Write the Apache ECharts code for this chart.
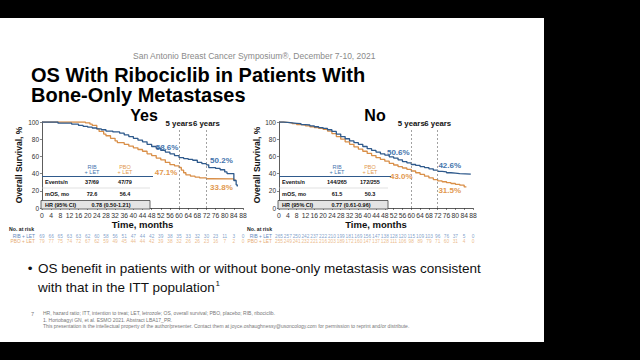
<!DOCTYPE html>
<html>
<head>
<meta charset="utf-8">
<script src="https://cdn.jsdelivr.net/npm/echarts@6/dist/echarts.min.js"></script>
<style>
html,body{margin:0;padding:0;background:#000;}
#wrap{position:relative;width:640px;height:360px;background:#000;overflow:hidden;}
#slide{position:absolute;left:0;top:18px;width:544px;height:324px;background:#fff;}
#chart{position:absolute;left:0;top:0;width:640px;height:360px;}
</style>
</head>
<body>
<div id="wrap"><div id="slide"></div><div id="chart"></div></div>
<script>
// ---------- data ----------
const months = [0,4,8,12,16,20,24,28,32,36,40,44,48,52,56,60,64,68,72,76,80,84,88];

// Kaplan-Meier curves: [month, % surviving]
const yesRib = [[0,100],[6,100],[7,98.6],[11,98.6],[13,97.5],[16,96],[18,95],[20,94],[22,93],[24,92],[26,91],[28,89.5],[31,88.5],[34,87],[36,85],[38,83],[40,81],[42,79],[44,77],[46,74],[48,71.5],[50,69.5],[52,67],[54,65],[56,63],[58,61],[60,58.6],[62,57.5],[64,56.5],[66,55.5],[68,53],[70,51.5],[72,50.2],[73,47],[76,46],[78,44.5],[80,42],[81,40],[83,40],[84,32],[85,27],[85.5,25]];
const yesPbo = [[0,100],[18,100],[19,99],[21,97.5],[22,96],[24,92],[25,89],[27,86],[28,84],[30,81],[32,78],[33,76],[36,74],[38,72],[40,70],[42,68],[44,66],[46,63],[48,61],[50,58],[52,56],[54,53],[56,50.5],[58,49],[60,47.1],[61,44],[62,41],[63,38.5],[65,37],[67,36],[69,35],[72,34],[74,33.8],[84,32.5],[85,32.5]];
const noRib = [[0,100],[2,99.5],[4,99],[6,98.5],[8,98],[10,97],[12,96.5],[14,95.5],[16,94.5],[18,93.5],[20,92.5],[22,91],[24,89],[26,86],[28,83],[30,80.5],[32,78],[34,76],[36,74],[38,71.5],[40,69],[42,67],[44,65],[46,63],[48,61.5],[50,59.5],[52,58],[54,56],[56,54],[58,52.5],[60,50.6],[62,49.5],[64,48],[66,47],[68,45.5],[70,44],[72,42.6],[74,42],[76,41],[78,40.5],[80,40],[82,39.5],[87,39.5]];
const noPbo = [[0,100],[2,99.5],[4,99],[6,98],[8,97],[10,96.5],[12,95.5],[14,94.5],[16,93.5],[18,92.5],[20,91.5],[22,89.5],[24,86.5],[26,83],[28,80],[30,77],[32,74],[34,71],[36,68.5],[38,66],[40,63.5],[42,61],[44,58.5],[46,56.5],[48,54.5],[50,52],[52,50],[54,48],[56,46.5],[58,45],[60,43],[62,41],[64,39],[66,37],[68,35],[70,33],[72,31.5],[74,30.5],[76,29.5],[78,28.5],[80,27.5],[82,26.5],[84,24.5],[85,24]];

// Landmark survival labels
const yesRibLandmarks = [[60,58.6],[72,50.2]];
const yesPboLandmarks = [[60,47.1],[72,33.8]];
const noRibLandmarks = [[60,50.6],[72,42.6]];
const noPboLandmarks = [[60,43.0],[72,31.5]];

// Number at risk
const riskYesRib = [69,66,65,63,63,62,60,58,56,51,47,44,42,39,38,35,33,32,30,23,11,3,0];
const riskYesPbo = [79,77,75,74,72,67,62,59,49,45,44,44,42,39,38,32,26,26,23,16,7,2,0];
const riskNoRib = [265,257,250,242,237,222,210,199,181,169,156,147,138,128,120,115,109,103,96,76,37,5,0];
const riskNoPbo = [255,249,241,232,221,216,203,189,172,160,147,137,128,111,106,98,89,79,71,60,31,4,0];

// Tables
const tableYes = {events:['37/69','47/79'], mos:['72.6','56.4'], hr:'0.78 (0.50-1.21)'};
const tableNo  = {events:['144/265','172/255'], mos:['61.5','50.3'], hr:'0.77 (0.61-0.96)'};

// ---------- styles ----------
const BLUE = '#2f5a8c', ORANGE = '#d98f48';
const BLUE_T = '#4575ad', ORANGE_T = '#e2994f';
const BLUE_R = '#6288bb', ORANGE_R = '#e6aa70';
const FONT = 'Liberation Sans, Arial, Helvetica, sans-serif';

const chart = echarts.init(document.getElementById('chart'), null, {renderer:'svg', width:640, height:360});

const grids = [
  {left:42, top:122, width:201, height:86},
  {left:279, top:122, width:194, height:86},
  {left:42, top:236, width:201, height:5.7},
  {left:279, top:236, width:194, height:5.7}
];

function xAx(gi){
  return {type:'value', gridIndex:gi, min:0, max:88, interval:4,
    name:'Time, months', nameLocation:'middle', nameGap:11,
    nameTextStyle:{fontFamily:FONT, fontWeight:'bold', fontSize:9.5, color:'#111'},
    axisLine:{show:true, onZero:false, lineStyle:{color:'#333', width:0.8}},
    axisTick:{show:true, length:2, lineStyle:{color:'#333', width:0.6}},
    axisLabel:{fontFamily:FONT, fontSize:6.8, color:'#333', margin:4},
    splitLine:{show:false}};
}
function yAx(gi, gap){
  return {type:'value', gridIndex:gi, min:0, max:100, interval:20,
    name:'Overall Survival, %', nameLocation:'middle', nameGap:gap,
    nameTextStyle:{fontFamily:FONT, fontWeight:'bold', fontSize:8.5, color:'#111'},
    axisLine:{show:true, lineStyle:{color:'#333', width:0.8}},
    axisTick:{show:true, length:2, lineStyle:{color:'#333', width:0.6}},
    axisLabel:{fontFamily:FONT, fontSize:6.5, color:'#333', margin:3},
    splitLine:{show:false}};
}
function hiddenX(gi){return {type:'value', gridIndex:gi, min:0, max:88, show:false};}
function hiddenY(gi){return {type:'value', gridIndex:gi, min:0, max:1, show:false};}

function kmSeries(data, color, xi, marks, labColor, offsets, withLines){
  const s = {type:'line', xAxisIndex:xi, yAxisIndex:xi, data:data, step:'end',
    showSymbol:false, symbol:'none', lineStyle:{color:color, width:1.3}, itemStyle:{color:color},
    silent:true, animation:false, z:3,
    markPoint:{symbol:'circle', symbolSize:0, silent:true, animation:false,
      data: marks.map((m,i)=>({coord:m, value:m[1].toFixed(1)+'%',
        label:{show:true, position:'inside', offset:offsets[i], formatter:m[1].toFixed(1)+'%',
          fontFamily:FONT, fontWeight:'bold', fontSize:8, color:labColor}}))}
  };
  if(withLines){
    const lab = (t)=>({show:true, position:'end', distance:1, formatter:t, fontFamily:FONT, fontWeight:'bold', fontSize:7.8, color:'#111'});
    s.markLine = {symbol:['none','none'], silent:true, animation:false,
      lineStyle:{type:[2,2], color:'#8a8a8a', width:0.8},
      data:[
        [{coord:[60,0]},{coord:[60,92], label:lab('5 years')}],
        [{coord:[72,0]},{coord:[72,92], label:lab('6 years')}]
      ]};
  }
  return s;
}

function riskSeries(vals, row, xi, color){
  return {type:'scatter', xAxisIndex:xi, yAxisIndex:xi, symbolSize:0, silent:true, animation:false,
    data: vals.map((v,i)=>[months[i], row, v]),
    label:{show:true, position:'inside', formatter:p=>String(p.value[2]),
      fontFamily:FONT, fontSize:4.8, color:color}};
}

// ---------- graphic texts / table ----------
function txt(text, x, y, opt){
  opt = opt || {};
  return {type:'text', silent:true, z:10, style:{text:text, x:x, y:y,
    fill:opt.fill||'#111', fontFamily:FONT, fontSize:opt.size||6, fontWeight:opt.weight||'normal',
    align:opt.align||'left', verticalAlign:'middle', textAlign:opt.align||'left', textVerticalAlign:'middle'}};
}
function table(t, x0, x1, c1, c2, hrX){
  const g = [];
  g.push(txt('RIB', c1, 166.5, {fill:BLUE_T, size:5.5, align:'center'}));
  g.push(txt('+ LET', c1, 171.5, {fill:BLUE_T, size:5.5, align:'center'}));
  g.push(txt('PBO', c2, 166.5, {fill:ORANGE_T, size:5.5, align:'center'}));
  g.push(txt('+ LET', c2, 171.5, {fill:ORANGE_T, size:5.5, align:'center'}));
  g.push({type:'line', silent:true, z:9, shape:{x1:x0, y1:176.5, x2:x1+3, y2:176.5}, style:{stroke:BLUE, lineWidth:1.2}});
  g.push(txt('Events/n', x0+3, 182, {weight:'bold', size:5.5}));
  g.push(txt(t.events[0], c1, 182, {weight:'bold', size:5.5, align:'center'}));
  g.push(txt(t.events[1], c2, 182, {weight:'bold', size:5.5, align:'center'}));
  g.push({type:'line', silent:true, z:9, shape:{x1:x0, y1:188, x2:x1, y2:188}, style:{stroke:'#cfcfcf', lineWidth:0.6}});
  g.push(txt('mOS, mo', x0+3, 194, {weight:'bold', size:5.5}));
  g.push(txt(t.mos[0], c1, 194, {weight:'bold', size:5.5, align:'center'}));
  g.push(txt(t.mos[1], c2, 194, {weight:'bold', size:5.5, align:'center'}));
  g.push({type:'rect', silent:true, z:9, shape:{x:x0-1, y:200.5, width:x1-x0+1, height:8.5}, style:{fill:'#e4e4e4', stroke:'#444', lineWidth:0.8}});
  g.push(txt('HR (95% CI)', x0+3, 204.8, {weight:'bold', size:5.5}));
  g.push(txt(t.hr, hrX, 204.8, {weight:'bold', size:5.5, align:'center'}));
  return g;
}

const graphics = [
  txt('San Antonio Breast Cancer Symposium®, December 7-10, 2021', 133, 56, {fill:'#8a8a8a', size:8.5}),
  txt('OS With Ribociclib in Patients With', 31, 75, {fill:'#000', size:20, weight:'bold'}),
  txt('Bone-Only Metastases', 31, 95, {fill:'#000', size:20, weight:'bold'}),
  txt('Yes', 144, 115, {fill:'#000', size:16, weight:'bold', align:'center'}),
  txt('No', 375, 115, {fill:'#000', size:16, weight:'bold', align:'center'}),
  txt('No. at risk', 9, 228.5, {size:5.2, weight:'bold', fill:'#222'}),
  txt('No. at risk', 247, 228.5, {size:5.2, weight:'bold', fill:'#222'}),
  txt('RIB + LET', 35, 236, {size:4.8, fill:BLUE_R, align:'right'}),
  txt('PBO + LET', 35, 241.7, {size:4.8, fill:ORANGE_R, align:'right'}),
  txt('RIB + LET', 272, 236, {size:4.8, fill:BLUE_R, align:'right'}),
  txt('PBO + LET', 272, 241.7, {size:4.8, fill:ORANGE_R, align:'right'}),
  txt('•', 30, 268, {size:13.5, fill:'#111', align:'center'}),
  txt('OS benefit in patients with or without bone-only metastasis was consistent', 38, 268, {size:13.5, fill:'#111'}),
  txt('with that in the ITT population', 38, 287, {size:13.5, fill:'#111'}),
  txt('1', 215.5, 283, {size:8, fill:'#111'}),
  txt('7', 31, 314, {size:5.5, fill:'#777'}),
  txt('HR, hazard ratio; ITT, intention to treat; LET, letrozole; OS, overall survival; PBO, placebo; RIB, ribociclib.', 43, 313, {size:5, fill:'#777'}),
  txt('1. Hortobagyi GN, et al. ESMO 2021. Abstract LBA17_PR.', 43, 319.5, {size:5, fill:'#777'}),
  txt('This presentation is the intellectual property of the author/presenter. Contact them at joyce.oshaughnessy@usoncology.com for permission to reprint and/or distribute.', 43, 326, {size:5, fill:'#777'})
].concat(table(tableYes, 42, 150, 92, 125, 111))
 .concat(table(tableNo, 279, 388, 337, 370, 351));

const option = {
  backgroundColor:'transparent',
  animation:false,
  grid: grids,
  xAxis:[xAx(0), xAx(1), hiddenX(2), hiddenX(3)],
  yAxis:[yAx(0,19), yAx(1,17), hiddenY(2), hiddenY(3)],
  graphic: graphics,
  series:[
    kmSeries(yesPbo, ORANGE, 0, yesPboLandmarks, ORANGE_T, [[-13,5.5],[15,9]], false),
    kmSeries(yesRib, BLUE, 0, yesRibLandmarks, BLUE_T, [[-12,-10],[15,-4]], true),
    kmSeries(noPbo, ORANGE, 1, noPboLandmarks, ORANGE_T, [[-10,5],[12,10]], false),
    kmSeries(noRib, BLUE, 1, noRibLandmarks, BLUE_T, [[-13,-11.5],[12,-5.5]], true),
    riskSeries(riskYesRib, 1, 2, BLUE_R),
    riskSeries(riskYesPbo, 0, 2, ORANGE_R),
    riskSeries(riskNoRib, 1, 3, BLUE_R),
    riskSeries(riskNoPbo, 0, 3, ORANGE_R)
  ]
};
chart.setOption(option);
</script>
</body>
</html>
